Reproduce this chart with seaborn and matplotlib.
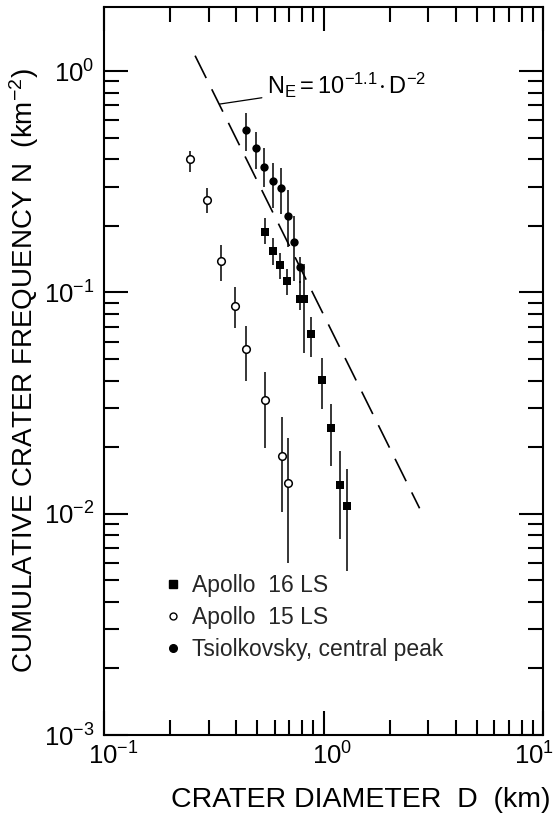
import matplotlib
matplotlib.use("Agg")
import matplotlib.pyplot as plt
import matplotlib.transforms as mtransforms
from matplotlib.lines import Line2D
from matplotlib.ticker import LogLocator, NullFormatter
import seaborn as sns

# Apollo 16 landing site: diameter (km), cumulative frequency (km^-2), error range
a16_d = [0.542, 0.591, 0.636, 0.684, 0.778, 0.819, 0.881, 0.987, 1.083, 1.184, 1.282]
a16_n = [0.188, 0.154, 0.133, 0.113, 0.0933, 0.0933, 0.0652, 0.0403, 0.0243, 0.01345, 0.0108]
a16_hi = [0.217, 0.176, 0.150, 0.128, 0.113, 0.135, 0.0775, 0.0503, 0.0314, 0.0193, 0.0159]
a16_lo = [0.166, 0.133, 0.115, 0.097, 0.083, 0.053, 0.0513, 0.0297, 0.0165, 0.0077, 0.0055]

# Apollo 15 landing site
a15_d = [0.246, 0.296, 0.343, 0.397, 0.444, 0.544, 0.647, 0.690]
a15_n = [0.40, 0.262, 0.138, 0.0873, 0.0556, 0.0326, 0.0183, 0.0138]
a15_hi = [0.436, 0.297, 0.163, 0.106, 0.0705, 0.0437, 0.0274, 0.0219]
a15_lo = [0.351, 0.228, 0.113, 0.0688, 0.0398, 0.0198, 0.0102, 0.0060]

# Tsiolkovsky crater, central peak
ts_d = [0.444, 0.491, 0.538, 0.589, 0.638, 0.689, 0.735, 0.782]
ts_n = [0.542, 0.448, 0.370, 0.320, 0.298, 0.221, 0.169, 0.131]
ts_hi = [0.645, 0.533, 0.448, 0.386, 0.366, 0.290, 0.222, 0.145]
ts_lo = [0.434, 0.363, 0.300, 0.240, 0.227, 0.161, 0.113, 0.110]

# Equilibrium distribution N_E = 10^-1.1 * D^-2, drawn over this diameter span
fit_exp = -1.1
fit_slope = -2.0
fit_d = [0.26, 2.74]
fit_n = [10 ** fit_exp * d ** fit_slope for d in fit_d]

sns.set_theme(style="ticks")
plt.rcParams["font.family"] = ["Liberation Sans", "DejaVu Sans"]
plt.rcParams["mathtext.fontset"] = "custom"
plt.rcParams["mathtext.rm"] = "Liberation Sans"
plt.rcParams["mathtext.it"] = "Liberation Sans:italic"
plt.rcParams["mathtext.bf"] = "Liberation Sans:bold"
plt.rcParams["mathtext.default"] = "regular"

fig = plt.figure(figsize=(5.57, 8.13), dpi=100)
ax = fig.add_axes([104 / 557, 1 - 735 / 813, (543 - 104) / 557, (735 - 7) / 813])

# error bars
for dd, lo, hi in ((a16_d, a16_lo, a16_hi), (a15_d, a15_lo, a15_hi), (ts_d, ts_lo, ts_hi)):
    ax.vlines(dd, lo, hi, colors="black", linewidth=1.1, zorder=2)

# equilibrium line
sns.lineplot(x=fit_d, y=fit_n, ax=ax, color="black", linewidth=1.2,
             linestyle=(0, (15, 7.5)), zorder=1)

# data points
sns.scatterplot(x=a16_d, y=a16_n, ax=ax, marker="s", color="black",
                edgecolor="black", s=40, linewidth=0, zorder=3)
sns.scatterplot(x=a15_d, y=a15_n, ax=ax, marker="o", facecolor="white",
                edgecolor="black", s=30, linewidth=1.1, zorder=3)
sns.scatterplot(x=ts_d, y=ts_n, ax=ax, marker="o", color="black",
                edgecolor="black", s=36, linewidth=0, zorder=3)

ax.set_xscale("log")
ax.set_yscale("log")
ax.set_xlim(0.1, 10)
ax.set_ylim(1e-3, 1.95)

for sp in ax.spines.values():
    sp.set_linewidth(1.5)
    sp.set_color("black")

for axis in (ax.xaxis, ax.yaxis):
    axis.set_major_locator(LogLocator(base=10, numticks=10))
    axis.set_minor_locator(LogLocator(base=10, subs=range(2, 10), numticks=20))
    axis.set_minor_formatter(NullFormatter())

ax.tick_params(which="both", direction="in", top=True, right=True,
               color="black", width=1.5, labelcolor="black")
ax.tick_params(which="major", length=17, labelsize=18.5)
ax.tick_params(which="minor", length=11)
ax.tick_params(axis="x", which="major", pad=5)
ax.tick_params(axis="y", which="major", pad=7)

# keep the "10" of each x label centred on its tick; pull the rightmost one inside
fig.canvas.draw()
for tick in ax.xaxis.get_major_ticks():
    dx = 0.09 if tick.get_loc() < 5 else -0.09
    lab = tick.label1
    lab.set_transform(lab.get_transform()
                      + mtransforms.ScaledTranslation(dx, 0, fig.dpi_scale_trans))

ax.set_xlabel("CRATER DIAMETER  D  (km)", fontsize=20.5, color="black")
ax.set_ylabel("CUMULATIVE CRATER FREQUENCY N  (km$^{-2}$)", fontsize=20, color="black")
ax.xaxis.set_label_coords(0.585, -0.071)
ax.yaxis.set_label_coords(-0.1435, 0.5)

ax.annotate(r"$N_E = 10^{-1.1}\!\cdot D^{-2}$", xy=(0.336, 0.71), xytext=(0.55, 0.865),
            textcoords="data", fontsize=17, ha="left", va="center", color="black",
            arrowprops=dict(arrowstyle="-", color="black", lw=0.9, shrinkA=1, shrinkB=0))

handles = [
    Line2D([], [], marker="s", linestyle="", color="black", markersize=5.5),
    Line2D([], [], marker="o", linestyle="", markerfacecolor="white",
           markeredgecolor="black", markeredgewidth=1.0, markersize=5),
    Line2D([], [], marker="o", linestyle="", color="black", markersize=5.5),
]
labels = ["Apollo  16 LS", "Apollo  15 LS", "Tsiolkovsky, central peak"]
ax.legend(handles, labels, loc="upper left", bbox_to_anchor=(0.137, 0.221),
          frameon=False, borderpad=0, handlelength=0.8, handletextpad=0.4,
          labelspacing=0.4, fontsize=16.5, borderaxespad=0)

fig.savefig("out.png", dpi=100, facecolor="white")
